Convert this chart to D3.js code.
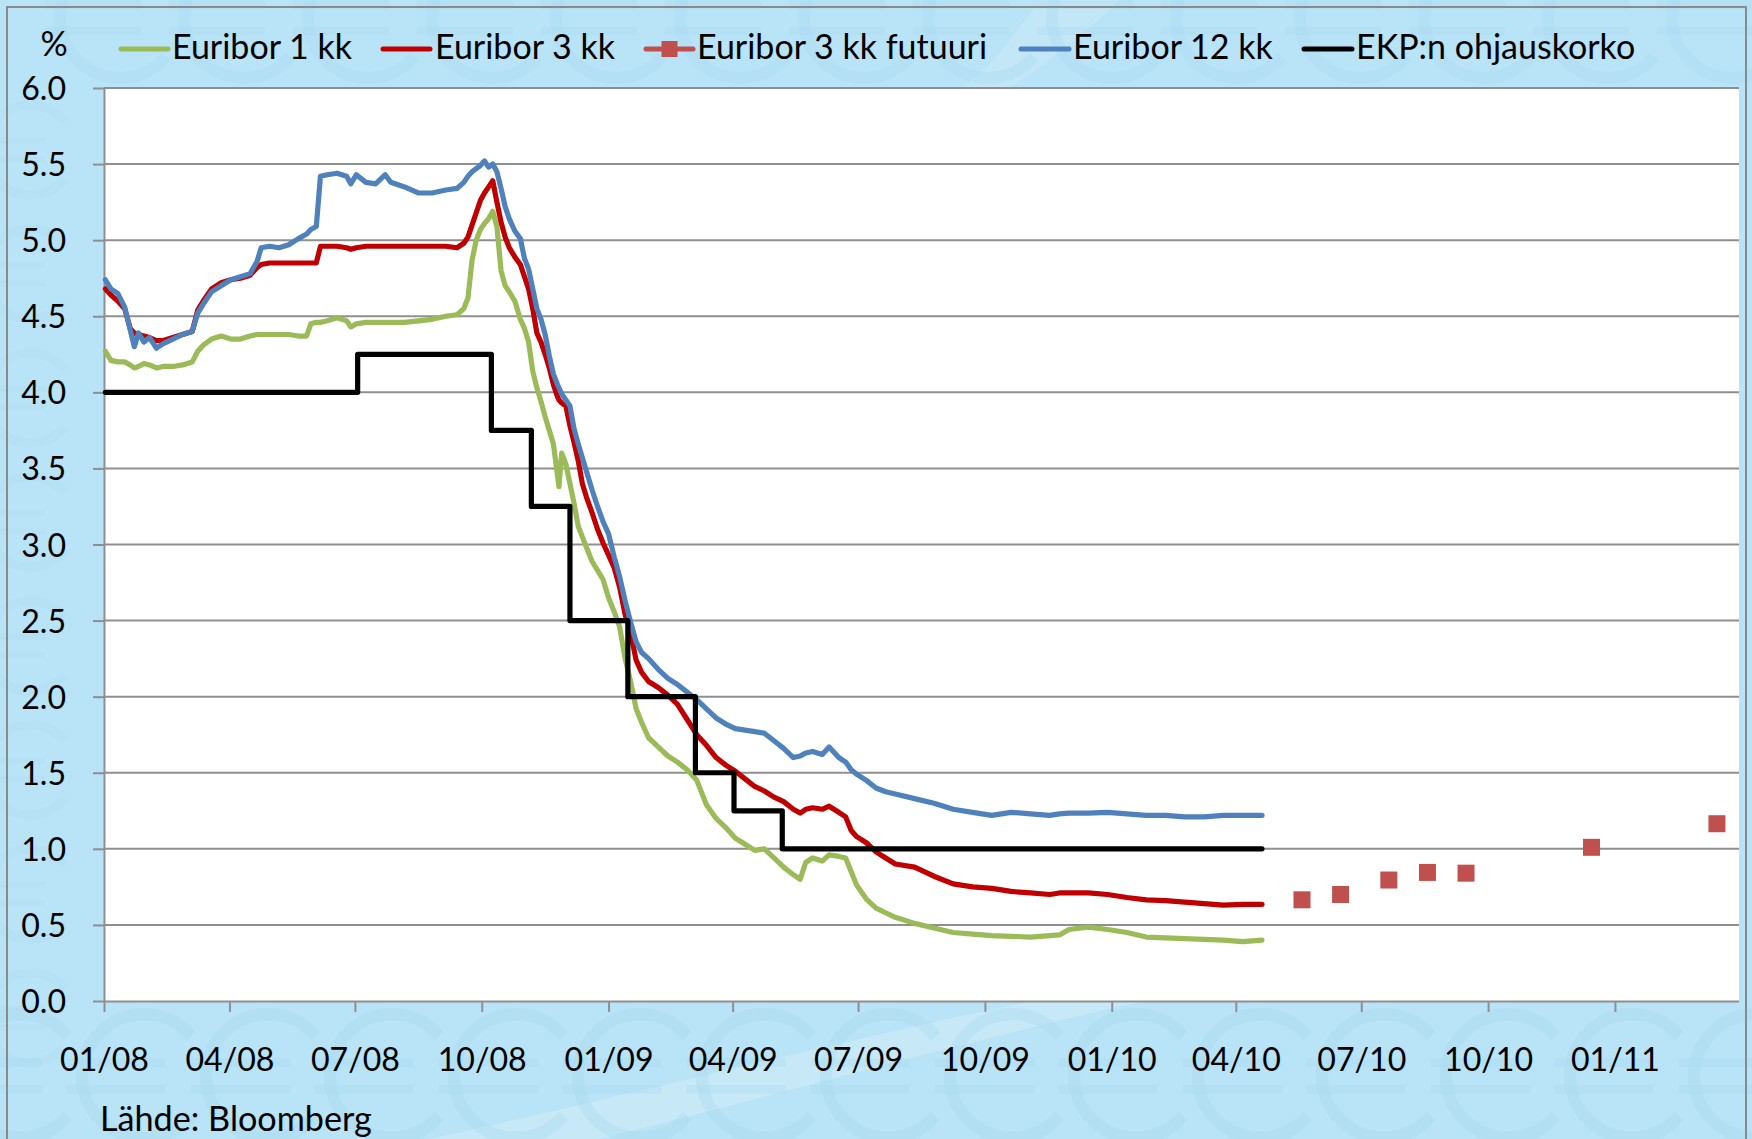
<!DOCTYPE html>
<html><head><meta charset="utf-8">
<script src="https://cdn.jsdelivr.net/npm/d3@7"></script>
<style>html,body{margin:0;padding:0;background:#b9e3f6;overflow:hidden;} svg{display:block;}</style>
</head><body>
<svg id="chart" width="1752" height="1139"></svg>
<script>
// ---------------- DATA ----------------
const dates = ["2008-01-02","2008-01-06","2008-01-11","2008-01-16","2008-01-20","2008-01-23","2008-01-26","2008-01-30","2008-02-03","2008-02-08","2008-02-13","2008-02-20","2008-02-27","2008-03-05","2008-03-09","2008-03-13","2008-03-19","2008-03-26","2008-04-02","2008-04-09","2008-04-16","2008-04-21","2008-04-24","2008-04-30","2008-05-07","2008-05-14","2008-05-21","2008-05-27","2008-05-30","2008-06-03","2008-06-06","2008-06-11","2008-06-18","2008-06-25","2008-06-28","2008-07-02","2008-07-09","2008-07-16","2008-07-23","2008-07-27","2008-08-06","2008-08-16","2008-08-26","2008-09-05","2008-09-13","2008-09-18","2008-09-21","2008-09-24","2008-09-27","2008-09-30","2008-10-03","2008-10-06","2008-10-09","2008-10-12","2008-10-15","2008-10-18","2008-10-21","2008-10-25","2008-10-29","2008-11-01","2008-11-04","2008-11-07","2008-11-10","2008-11-13","2008-11-16","2008-11-19","2008-11-22","2008-11-25","2008-11-26","2008-11-28","2008-12-01","2008-12-04","2008-12-07","2008-12-10","2008-12-13","2008-12-16","2008-12-20","2008-12-24","2008-12-28","2009-01-01","2009-01-05","2009-01-09","2009-01-13","2009-01-17","2009-01-21","2009-01-25","2009-01-30","2009-02-06","2009-02-13","2009-02-20","2009-02-27","2009-03-06","2009-03-13","2009-03-20","2009-03-27","2009-04-03","2009-04-10","2009-04-17","2009-04-24","2009-05-01","2009-05-08","2009-05-15","2009-05-20","2009-05-24","2009-05-29","2009-06-05","2009-06-10","2009-06-17","2009-06-22","2009-06-26","2009-06-30","2009-07-07","2009-07-14","2009-07-21","2009-07-28","2009-08-11","2009-08-25","2009-09-08","2009-09-22","2009-10-06","2009-10-20","2009-11-03","2009-11-17","2009-11-24","2009-12-01","2009-12-15","2009-12-29","2010-01-12","2010-01-26","2010-02-09","2010-02-23","2010-03-09","2010-03-23","2010-04-06","2010-04-20"];

const euribor1kk = [4.27,4.21,4.20,4.20,4.18,4.16,4.17,4.19,4.18,4.16,4.17,4.17,4.18,4.20,4.27,4.31,4.35,4.37,4.35,4.35,4.37,4.38,4.38,4.38,4.38,4.38,4.37,4.37,4.45,4.46,4.46,4.47,4.49,4.47,4.43,4.45,4.46,4.46,4.46,4.46,4.46,4.47,4.48,4.50,4.51,4.55,4.62,4.87,5.00,5.07,5.11,5.14,5.19,5.09,4.80,4.70,4.66,4.60,4.48,4.42,4.33,4.14,4.03,3.94,3.84,3.75,3.66,3.45,3.38,3.60,3.53,3.40,3.27,3.12,3.05,2.98,2.89,2.83,2.77,2.65,2.56,2.46,2.25,2.10,1.92,1.83,1.73,1.67,1.61,1.57,1.52,1.45,1.29,1.20,1.14,1.07,1.03,0.99,1.00,0.94,0.88,0.83,0.80,0.91,0.94,0.92,0.96,0.95,0.94,0.85,0.76,0.67,0.61,0.58,0.55,0.51,0.48,0.45,0.44,0.43,0.425,0.42,0.43,0.434,0.47,0.485,0.47,0.45,0.42,0.415,0.41,0.405,0.40,0.39,0.40];

const euribor3kk = [4.68,4.64,4.60,4.55,4.42,4.39,4.38,4.37,4.36,4.34,4.34,4.36,4.38,4.40,4.54,4.60,4.68,4.72,4.74,4.75,4.77,4.82,4.84,4.85,4.85,4.85,4.85,4.85,4.85,4.85,4.96,4.96,4.96,4.95,4.94,4.95,4.96,4.96,4.96,4.96,4.96,4.96,4.96,4.96,4.95,4.98,5.02,5.10,5.18,5.26,5.31,5.35,5.39,5.25,5.12,5.02,4.95,4.89,4.84,4.76,4.68,4.55,4.39,4.33,4.25,4.16,4.05,3.97,3.95,3.93,3.91,3.78,3.67,3.55,3.40,3.31,3.21,3.10,3.01,2.93,2.85,2.72,2.54,2.42,2.24,2.16,2.10,2.06,2.01,1.95,1.85,1.75,1.68,1.60,1.55,1.51,1.46,1.41,1.38,1.34,1.31,1.26,1.235,1.26,1.27,1.26,1.28,1.24,1.21,1.12,1.08,1.04,0.98,0.94,0.90,0.88,0.82,0.77,0.75,0.74,0.72,0.71,0.70,0.71,0.71,0.71,0.70,0.68,0.665,0.66,0.65,0.64,0.63,0.635,0.635];

const euribor12kk = [4.74,4.68,4.65,4.56,4.41,4.30,4.39,4.33,4.36,4.29,4.32,4.35,4.38,4.40,4.52,4.58,4.66,4.70,4.74,4.76,4.78,4.86,4.95,4.96,4.95,4.97,5.01,5.04,5.07,5.09,5.42,5.43,5.44,5.42,5.37,5.43,5.38,5.37,5.43,5.38,5.35,5.31,5.31,5.33,5.34,5.38,5.42,5.45,5.47,5.49,5.52,5.48,5.50,5.45,5.34,5.22,5.14,5.06,5.01,4.88,4.81,4.68,4.55,4.48,4.38,4.24,4.12,4.05,4.03,3.99,3.95,3.91,3.76,3.66,3.57,3.48,3.36,3.25,3.15,3.07,2.92,2.79,2.63,2.49,2.36,2.29,2.25,2.18,2.12,2.08,2.03,1.98,1.92,1.86,1.82,1.79,1.78,1.77,1.76,1.71,1.66,1.60,1.61,1.63,1.64,1.62,1.67,1.60,1.57,1.52,1.49,1.45,1.40,1.375,1.36,1.33,1.30,1.26,1.24,1.22,1.24,1.23,1.22,1.23,1.235,1.235,1.24,1.23,1.22,1.22,1.21,1.21,1.22,1.22,1.22];

const ecbDates = ["2008-01-02","2008-07-03","2008-10-08","2008-11-06","2008-12-04","2009-01-15","2009-03-05","2009-04-02","2009-05-07","2010-04-20"];
const ecbRate   = [4.00,4.25,3.75,3.25,2.50,2.00,1.50,1.25,1.00,1.00];

const futDates  = ["2010-05-19","2010-06-16","2010-07-21","2010-08-18","2010-09-15","2010-12-15","2011-03-16"];
const futValues = [0.665,0.70,0.795,0.845,0.84,1.01,1.165];

const yTicks = [0,0.5,1,1.5,2,2.5,3,3.5,4,4.5,5,5.5,6];
const xTickDates = ["2008-01-01","2008-04-01","2008-07-01","2008-10-01","2009-01-01","2009-04-01","2009-07-01","2009-10-01","2010-01-01","2010-04-01","2010-07-01","2010-10-01","2011-01-01"];
const seriesNames = ["Euribor 1 kk","Euribor 3 kk","Euribor 3 kk futuuri","Euribor 12 kk","EKP:n ohjauskorko"];
const yUnit = "%";
const sourceText = "Lähde: Bloomberg";

// ---------------- DRAW ----------------
const parse = d3.utcParse("%Y-%m-%d");
const svg = d3.select("#chart");
const FONT = "Lato, 'Open Sans', sans-serif";
const C = {g:"#9bbb59", r:"#c00000", f:"#c0504d", b:"#4f81bd", k:"#000000", grid:"#8f8f8f"};

const L = 104, R = 1739, T = 88, B = 1001;
const x = d3.scaleUtc().domain([parse("2008-01-01"), parse("2011-04-01")]).range([L, R]);
const y = d3.scaleLinear().domain([0, 6]).range([B, T]);

function fit(text, target) {
  const t = svg.append("text").attr("font-family", FONT).attr("font-size", 100).text(text);
  const w = t.node().getComputedTextLength();
  t.remove();
  return 100 * target / w;
}
const axisFS = fit("01/08", 89);
const legFS = fit("Euribor 1 kk", 180);
const srcFS = fit(sourceText, 272);

// background
svg.append("rect").attr("width",1752).attr("height",1139).attr("fill","#b9e3f6");
const deco = svg.append("g").attr("fill","none");
deco.append("path").attr("d","M430,1139 C700,1080 950,1010 1250,960 L1320,960 C1000,1030 760,1100 600,1139 Z")
  .attr("fill","#d0ecf9").attr("opacity",0.6);
deco.append("path").attr("d","M1040,0 C1010,40 990,70 960,88 L1010,88 C1050,60 1090,30 1120,0 Z")
  .attr("fill","#d0ecf9").attr("opacity",0.5);
function euro(cx, cy, r, op) {
  const a = 40 * Math.PI / 180;
  const x1 = cx + r*Math.cos(a), y1 = cy - r*Math.sin(a), y2 = cy + r*Math.sin(a);
  deco.append("path").attr("d",`M${x1},${y1} A${r},${r} 0 1 0 ${x1},${y2}`)
    .attr("stroke","#a9d9f0").attr("stroke-width",r*0.2).attr("opacity",op);
  [-0.18,0.18].forEach(o => deco.append("line")
    .attr("x1",cx - r*1.25).attr("x2",cx + r*0.35).attr("y1",cy + o*r*1.2).attr("y2",cy + o*r*1.2)
    .attr("stroke","#a9d9f0").attr("stroke-width",r*0.14).attr("opacity",op*0.8));
}
for (let i = 0; i < 15; i++) euro(120 + 124*i, 18, 60, 0.35);
for (let i = 0; i < 15; i++) euro(20 + 124*i, 1076, 62, 0.4);
for (let j = 0; j < 8; j++) euro(30, 150 + 124*j, 45, 0.2);

// frame
svg.append("path").attr("d","M7,1139 V7 H1746 V1139").attr("fill","none").attr("stroke","#8a8a8a").attr("stroke-width",2);

// plot area
svg.append("rect").attr("x",L).attr("y",T).attr("width",R-L).attr("height",B-T).attr("fill","#ffffff");

// gridlines
svg.append("g").selectAll("line").data(yTicks.filter(v => v > 0)).join("line")
  .attr("x1",L).attr("x2",R).attr("y1",d => y(d)).attr("y2",d => y(d))
  .attr("stroke",C.grid).attr("stroke-width",2);

// axes
const yAxis = svg.append("g").attr("transform",`translate(${L},0)`)
  .call(d3.axisLeft(y).tickValues(yTicks).tickFormat(d3.format(".1f")).tickSize(11).tickPadding(27));
const xAxis = svg.append("g").attr("transform",`translate(0,${B})`)
  .call(d3.axisBottom(x).tickValues(xTickDates.map(parse)).tickFormat(d3.utcFormat("%m/%y")).tickSize(11));
[yAxis, xAxis].forEach(g => {
  g.select(".domain").attr("stroke",C.grid).attr("stroke-width",2);
  g.selectAll(".tick line").attr("stroke",C.grid).attr("stroke-width",2);
  g.selectAll("text").attr("font-family",FONT).attr("font-size",axisFS).attr("fill","#000");
});
yAxis.select(".domain").attr("d",`M0.5,${T}V${B}`);
xAxis.select(".domain").attr("d",`M${L},0.5H${R}`);
yAxis.selectAll(".tick text").attr("dy","0.36em");
xAxis.selectAll(".tick text").attr("y",70).attr("dy",0);

// series
const LW = 5.2;
const line = d3.line().x(d => x(d[0])).y(d => y(d[1]));
const pd = dates.map(parse);
const drawLine = (vals, color) => svg.append("path")
  .datum(pd.map((d,i) => [d, vals[i]]))
  .attr("d", line).attr("fill","none").attr("stroke",color).attr("stroke-width",LW)
  .attr("stroke-linejoin","round").attr("stroke-linecap","round");

drawLine(euribor1kk, C.g);
drawLine(euribor3kk, C.r);
svg.append("g").selectAll("rect").data(futDates.map((d,i) => [parse(d), futValues[i]])).join("rect")
  .attr("x", d => x(d[0]) - 8.5).attr("y", d => y(d[1]) - 8.5).attr("width",17).attr("height",17)
  .attr("fill",C.f);
drawLine(euribor12kk, C.b);
svg.append("path").datum(ecbDates.map((d,i) => [parse(d), ecbRate[i]]))
  .attr("d", d3.line().x(d => x(d[0])).y(d => y(d[1])).curve(d3.curveStepAfter))
  .attr("fill","none").attr("stroke",C.k).attr("stroke-width",LW).attr("stroke-linejoin","round").attr("stroke-linecap","round");

// y unit
svg.append("text").attr("x",54).attr("y",56).attr("text-anchor","middle")
  .attr("font-family",FONT).attr("font-size",legFS).text(yUnit);

// legend
const legPos = [
  {x0:121, x1:168, tx:172, c:C.g},
  {x0:383, x1:430, tx:435, c:C.r},
  {x0:646, x1:693, tx:697, c:C.f, marker:true},
  {x0:1021, x1:1069, tx:1073, c:C.b},
  {x0:1304, x1:1352, tx:1356, c:C.k}
];
const leg = svg.append("g");
legPos.forEach((p,i) => {
  leg.append("line").attr("x1",p.x0).attr("x2",p.x1).attr("y1",49).attr("y2",49)
    .attr("stroke",p.c).attr("stroke-width",5).attr("stroke-linecap","round");
  if (p.marker) leg.append("rect").attr("x",(p.x0+p.x1)/2-8).attr("y",41).attr("width",16).attr("height",16).attr("fill",p.c);
  leg.append("text").attr("x",p.tx).attr("y",59).attr("font-family",FONT).attr("font-size",legFS).text(seriesNames[i]);
});

// source
svg.append("text").attr("x",100).attr("y",1131).attr("font-family",FONT).attr("font-size",srcFS).text(sourceText);
</script>
</body></html>
